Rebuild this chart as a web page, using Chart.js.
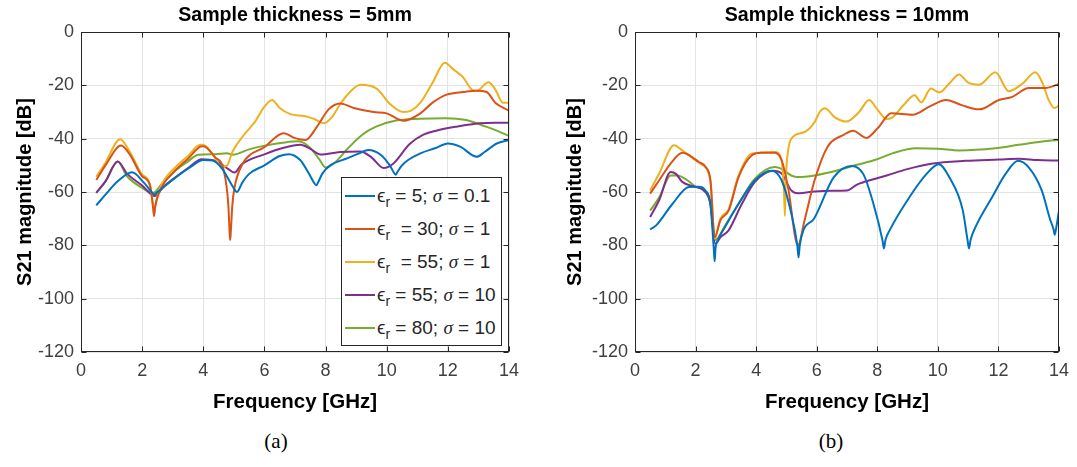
<!DOCTYPE html>
<html>
<head>
<meta charset="utf-8">
<script src="https://cdn.jsdelivr.net/npm/chart.js@4.4.1/dist/chart.umd.min.js"></script>
<style>
  html, body { margin: 0; padding: 0; background: #fff; }
  body { width: 1077px; height: 467px; position: relative; overflow: hidden; font-family: "Liberation Sans", Arial, sans-serif; }
  canvas { position: absolute; top: 0; }
  #chartA { left: 0; }
  #chartB { left: 540px; }
  .caption { position: absolute; top: 429px; font-family: "Liberation Serif", "Times New Roman", serif; font-size: 21px; color: #000; transform: translateX(-50%); }
  #legendA { position: absolute; left: 341px; top: 177px; width: 159px; height: 167px; border: 1px solid #262626; background: #fff; }
  .lg-row { position: absolute; left: 3px; height: 24px; display: flex; align-items: center; font-size: 19px; color: #262626; white-space: pre; }
  .lg-line { width: 30px; height: 2px; margin-right: 2px; }
  .lg-row sub { font-size: 14px; position: relative; top: 5px; vertical-align: baseline; }
  .lg-row i { font-family: "Liberation Serif", serif; }
</style>
</head>
<body>
<canvas id="chartA" width="540" height="420"></canvas>
<canvas id="chartB" width="537" height="420"></canvas>
<div id="legendA"></div>
<div class="caption" style="left:276px">(a)</div>
<div class="caption" style="left:831px">(b)</div>
<script>
// series labels and colours (MATLAB default order)
const seriesLabels = ['ϵ_r = 5; σ = 0.1', 'ϵ_r  = 30; σ = 1', 'ϵ_r  = 55; σ = 1', 'ϵ_r = 55; σ = 10', 'ϵ_r = 80; σ = 10'];
const seriesColors = ['#0072BD', '#D95319', '#EDB120', '#7E2F8E', '#77AC30'];
const xTicks = [0, 2, 4, 6, 8, 10, 12, 14];
const yTicks = [-120, -100, -80, -60, -40, -20, 0];

// (a) 5 mm  -- [GHz, dB]
const thin_eps5 = [[0.5,-65],[0.8,-61],[1.2,-56],[1.67,-52.6],[2.05,-56.4],[2.35,-60.5],[2.4,-61],[2.45,-60.5],[2.55,-59.6],[3.1,-54.5],[3.6,-50.5],[4.0,-48],[4.3,-48.2],[4.62,-51.3],[4.95,-57.7],[5.1,-60],[5.28,-56.4],[5.5,-53.2],[6.0,-50],[6.5,-46.5],[6.8,-45.8],[7.17,-48],[7.45,-53],[7.65,-57],[7.7,-57.5],[7.75,-56.5],[7.9,-53],[8.15,-50],[8.7,-47.4],[9.1,-45.5],[9.4,-44.2],[9.8,-46],[10.1,-50],[10.25,-53],[10.3,-53.5],[10.35,-52.5],[10.5,-50],[10.7,-48],[11.1,-45.5],[11.6,-43.5],[12.0,-41.8],[12.4,-43],[12.95,-46.8],[13.2,-45],[13.6,-41.8],[14,-40.5]];
const thin_eps30 = [[0.5,-55.5],[0.8,-50],[1.31,-42.6],[1.6,-46],[1.99,-54],[2.26,-57.7],[2.36,-66],[2.39,-69],[2.42,-66],[2.53,-61],[3.08,-52],[3.5,-47.5],[3.9,-43],[4.0,-42.8],[4.39,-47],[4.66,-51.5],[4.82,-65],[4.86,-75],[4.88,-78],[4.9,-75],[4.95,-65],[5.02,-58.4],[5.26,-50],[6.02,-43],[6.63,-38],[7.0,-39.8],[7.34,-40.5],[7.72,-35.5],[8.1,-29],[8.48,-26.8],[8.92,-28.5],[9.57,-30],[10,-30.5],[10.55,-33.3],[11.1,-30.5],[11.5,-26.5],[11.96,-23.5],[12.5,-22.5],[12.95,-22],[13.27,-22.5],[13.55,-26.5],[14,-29.5]];
const thin_eps55 = [[0.5,-54.3],[0.8,-49],[1.28,-40.2],[1.6,-45],[1.99,-53.3],[2.25,-57],[2.36,-65.5],[2.39,-68.5],[2.42,-65.5],[2.59,-58.4],[3.08,-50.8],[3.5,-46.5],[3.9,-42.3],[4.06,-42.6],[4.35,-46.5],[4.6,-50.5],[4.78,-50],[4.95,-45],[5.3,-39],[5.7,-33.5],[6.0,-28],[6.25,-25.5],[6.5,-28.5],[6.85,-30.8],[7.3,-31.5],[7.6,-32.5],[7.94,-34.2],[8.2,-32],[8.48,-27],[8.8,-22.5],[9.13,-19.8],[9.68,-21.3],[10.11,-27],[10.55,-30],[10.8,-29.5],[11.1,-26.5],[11.5,-19],[11.9,-11.5],[12.18,-14],[12.5,-17],[12.8,-21.7],[12.95,-22],[13.33,-18.8],[13.55,-21.5],[13.8,-26.5],[14,-26.5]];
const thin_eps55s10 = [[0.5,-60.3],[0.8,-56],[1.2,-48.6],[1.5,-53],[1.99,-57.5],[2.42,-61.5],[2.7,-58],[3.08,-54.6],[3.5,-51],[3.95,-47.7],[4.39,-48.3],[4.82,-51.4],[5.02,-52.7],[5.26,-49.6],[6.02,-45.8],[6.6,-43.5],[7.18,-42.3],[7.5,-43.8],[7.83,-45.9],[8.48,-45],[9.14,-44.8],[9.5,-47],[9.9,-51],[10.2,-49.5],[10.75,-42],[11.2,-38.5],[11.62,-37],[12.27,-35.5],[13.03,-34.2],[13.55,-34],[14,-34]];
const thin_eps80 = [[0.5,-60.3],[0.8,-56],[1.2,-48.6],[1.5,-54],[1.99,-58.4],[2.37,-60.3],[2.64,-57],[3.08,-52],[3.5,-48.5],[3.84,-46],[4.39,-45.8],[4.77,-45.5],[4.98,-46],[5.5,-44],[6.02,-42.6],[6.67,-41.4],[7.12,-41],[7.5,-43.5],[7.78,-47.5],[8.0,-50.8],[8.3,-49],[8.7,-44],[9.2,-38.5],[9.65,-35.5],[10.3,-33.2],[11.07,-32.5],[11.94,-32.3],[12.6,-33],[13.25,-35.5],[13.6,-37],[14,-39]];

// (b) 10 mm
const thick_eps5 = [[0.5,-74],[0.7,-72.5],[1.24,-64.4],[1.78,-58.1],[2.11,-58],[2.33,-59.5],[2.49,-64.5],[2.6,-81],[2.63,-86],[2.66,-81],[2.74,-78],[2.98,-73],[3.42,-64.4],[3.96,-55.6],[4.51,-52],[4.84,-55.6],[5.16,-68],[5.36,-80],[5.4,-84.5],[5.44,-80],[5.56,-74.3],[5.91,-70],[6.56,-54.5],[7.16,-50.2],[7.54,-53.3],[7.87,-64.3],[8.17,-78],[8.22,-81.2],[8.27,-78],[8.42,-74.1],[9.07,-61.8],[9.62,-53.3],[10.03,-49.6],[10.38,-54.5],[10.82,-66.7],[10.98,-78],[11.03,-81.2],[11.08,-78],[11.25,-73],[11.8,-61.8],[12.23,-53.3],[12.65,-48.3],[13.0,-50.8],[13.43,-59.4],[13.7,-70],[13.82,-74],[13.86,-76],[13.9,-74],[14,-67]];
const thick_eps30 = [[0.5,-60.6],[0.8,-55.6],[1.2,-49],[1.56,-45.3],[2.11,-48.75],[2.33,-50.6],[2.49,-55.6],[2.63,-77],[2.82,-70.6],[3.09,-67],[3.42,-54.4],[3.85,-46.3],[4.18,-45.3],[4.62,-45.3],[4.84,-48],[5.05,-58],[5.38,-80],[5.6,-70.6],[5.93,-55.6],[6.36,-43],[6.9,-38.5],[7.2,-37],[7.64,-39.7],[8.02,-36],[8.46,-30.5],[9.17,-31],[9.72,-28],[10.27,-25.5],[10.81,-27.5],[11.36,-29],[12.02,-25.5],[12.46,-24.3],[13.0,-21],[13.55,-21],[14,-19.5]];
const thick_eps55 = [[0.5,-59.4],[0.8,-53],[1.29,-42.5],[1.56,-44.4],[2.0,-48.1],[2.16,-49.4],[2.49,-55.6],[2.63,-77.5],[2.82,-70],[3.09,-66.5],[3.42,-53.8],[3.85,-45.6],[4.62,-45],[4.84,-48],[4.92,-60],[4.95,-69],[4.98,-55],[5.05,-45],[5.16,-40],[5.6,-37.5],[5.93,-33.8],[6.1,-30],[6.27,-28.6],[6.6,-32],[6.98,-33.6],[7.4,-30],[7.73,-25.5],[8.0,-29],[8.3,-32.6],[8.46,-32.3],[8.9,-27],[9.23,-23.7],[9.45,-26.4],[9.77,-21.2],[10.05,-22.7],[10.4,-19],[10.7,-15.9],[11.0,-19],[11.36,-19.75],[11.9,-15.1],[12.34,-22.2],[12.79,-19.4],[13.22,-15.1],[13.45,-19],[13.66,-25.5],[13.85,-28.5],[14,-27.5]];
const thick_eps55s10 = [[0.5,-69.4],[0.8,-63],[1.18,-52.5],[1.35,-53.2],[1.56,-56.2],[2.0,-58.1],[2.27,-59.4],[2.49,-64.4],[2.65,-79.4],[2.82,-77],[3.09,-74.4],[3.53,-64.4],[3.96,-56.2],[4.56,-52],[4.84,-53.1],[5.16,-59.4],[5.38,-60.5],[5.93,-59.8],[6.5,-59.5],[7.0,-59.4],[7.33,-57.2],[7.87,-55.2],[8.31,-53.8],[8.96,-51.5],[9.83,-49.3],[10.92,-48.3],[12.02,-47.8],[12.67,-47.5],[13.3,-48],[14,-48.2]];
const thick_eps80 = [[0.5,-67],[0.8,-62],[1.18,-53.8],[1.4,-53.8],[1.73,-55.6],[2.0,-58],[2.27,-59.4],[2.49,-64.4],[2.65,-78],[2.98,-72.5],[3.42,-64.4],[3.96,-55],[4.62,-50.6],[4.84,-51.3],[5.16,-53.8],[5.38,-54.4],[5.93,-53.8],[6.36,-52.8],[7.33,-49.8],[7.97,-47.8],[8.5,-45.5],[9.28,-43.6],[10.0,-43.8],[10.7,-44.4],[11.9,-43.6],[12.67,-42.3],[13.66,-40.8],[14,-40.5]];

const FONT = '"Liberation Sans", Arial, sans-serif';

// MATLAB style box with inward ticks
const boxPlugin = {
  id: 'box',
  afterDraw(chart) {
    const { ctx, chartArea: a, scales: { x, y } } = chart;
    ctx.save();
    ctx.strokeStyle = '#262626';
    ctx.lineWidth = 1;
    const L = Math.round(a.left) + 0.5, R = Math.round(a.right) - 0.5;
    const T = Math.round(a.top) + 0.5, B = Math.round(a.bottom) - 0.5;
    ctx.strokeRect(L, T, R - L, B - T);
    ctx.beginPath();
    x.ticks.forEach(t => {
      const px = Math.round(x.getPixelForValue(t.value)) + 0.5;
      ctx.moveTo(px, B); ctx.lineTo(px, B - 5);
      ctx.moveTo(px, T); ctx.lineTo(px, T + 5);
    });
    y.ticks.forEach(t => {
      const py = Math.round(y.getPixelForValue(t.value)) + 0.5;
      ctx.moveTo(L, py); ctx.lineTo(L + 5, py);
      ctx.moveTo(R, py); ctx.lineTo(R - 5, py);
    });
    ctx.stroke();
    ctx.restore();
  }
};

function makeDatasets(series) {
  return series.map((pts, i) => ({
    label: seriesLabels[i],
    data: pts.map(p => ({ x: p[0], y: p[1] })),
    borderColor: seriesColors[i],
    backgroundColor: seriesColors[i],
    borderWidth: 2,
    pointRadius: 0,
    cubicInterpolationMode: 'monotone',
    fill: false,
  }));
}

function makeChart(id, title, series, yWidth, yTitlePad, rightPad) {
  return new Chart(document.getElementById(id), {
    type: 'line',
    data: { datasets: makeDatasets(series) },
    plugins: [boxPlugin],
    options: {
      responsive: false,
      animation: false,
      layout: { padding: { left: 0, right: rightPad, top: 0, bottom: 0 } },
      plugins: {
        legend: { display: false },
        tooltip: { enabled: false },
        title: {
          display: true, text: title, color: '#000', fullSize: false,
          font: { family: FONT, size: 19.6, weight: 'bold', lineHeight: 1.2 },
          padding: { top: 4, bottom: 4.5 },
        },
      },
      scales: {
        x: {
          type: 'linear', min: 0, max: 14,
          afterBuildTicks: s => { s.ticks = xTicks.map(v => ({ value: v })); },
          afterFit: s => { s.height = 68; },
          border: { display: false },
          grid: { color: '#e3e3e3', drawTicks: false },
          ticks: { color: '#404040', padding: 8, font: { family: FONT, size: 18 } },
          title: {
            display: true, text: 'Frequency [GHz]', color: '#000',
            font: { family: FONT, size: 20.5, weight: 'bold', lineHeight: 1.2 },
            padding: { top: 0, bottom: 5.5 },
          },
        },
        y: {
          min: -120, max: 0,
          afterBuildTicks: s => { s.ticks = yTicks.map(v => ({ value: v })); },
          afterFit: s => { s.width = yWidth; },
          border: { display: false },
          grid: { color: '#e3e3e3', drawTicks: false },
          ticks: { color: '#404040', padding: 7, font: { family: FONT, size: 18 } },
          title: {
            display: true, text: 'S21 magnitude [dB]', color: '#000',
            font: { family: FONT, size: 20, weight: 'bold', lineHeight: 1.2 },
            padding: { top: yTitlePad, bottom: 0 },
          },
        },
      },
    },
  });
}

const chartA = makeChart('chartA', 'Sample thickness = 5mm',
  [thin_eps5, thin_eps30, thin_eps55, thin_eps55s10, thin_eps80], 81, 13, 31);
const chartB = makeChart('chartB', 'Sample thickness = 10mm',
  [thick_eps5, thick_eps30, thick_eps55, thick_eps55s10, thick_eps80], 95, 23, 12);

// legend built from the chart's own legend items
const legendBox = document.getElementById('legendA');
chartA.options.plugins.legend.labels.generateLabels(chartA).forEach((item, i) => {
  const row = document.createElement('div');
  row.className = 'lg-row';
  row.style.top = (6 + i * 33) + 'px';
  const line = document.createElement('span');
  line.className = 'lg-line';
  line.style.background = item.strokeStyle;
  row.appendChild(line);
  const txt = document.createElement('span');
  txt.innerHTML = item.text.replace('_r', '<sub>r</sub>').replace('σ', '<i>σ</i>');
  row.appendChild(txt);
  legendBox.appendChild(row);
});
</script>
</body>
</html>
